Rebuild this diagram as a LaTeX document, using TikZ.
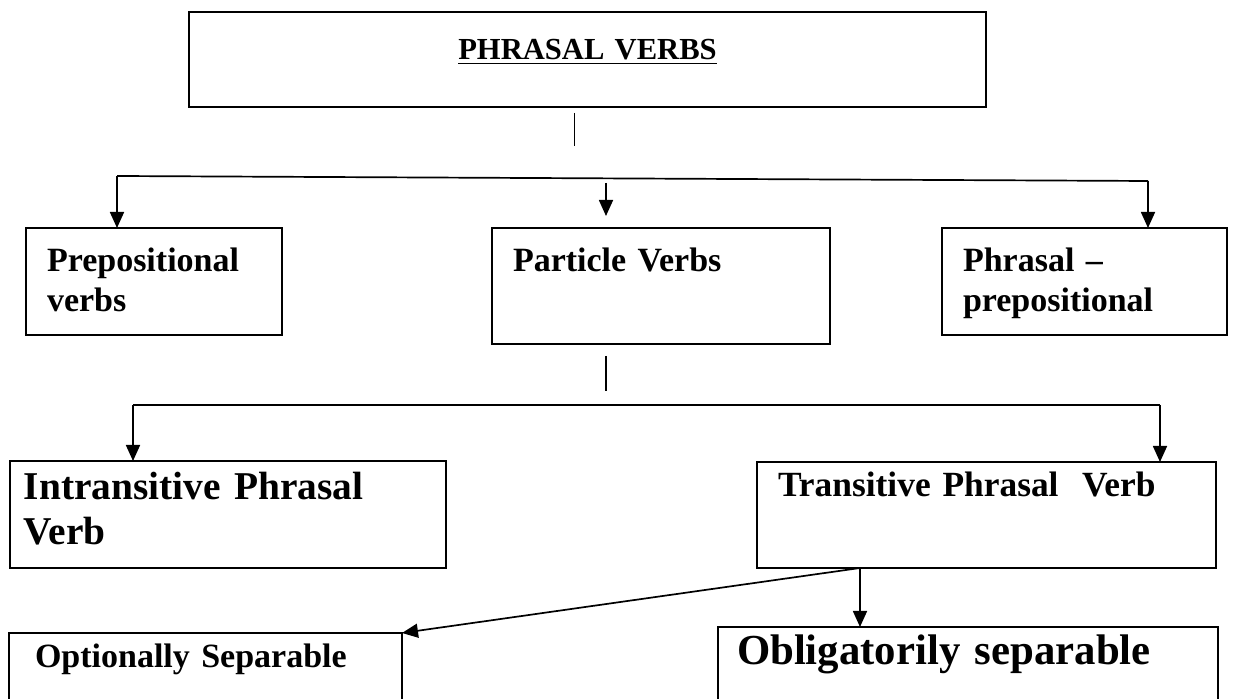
\documentclass[tikz,border=0pt]{standalone}
\usepackage{fontspec}
\setmainfont{Liberation Serif}
\usetikzlibrary{arrows.meta,calc}

\begin{document}
\begin{tikzpicture}[
  x=0.5pt, y=-0.5pt,
  line width=0.85pt,
  arrow/.style={-{Triangle[length=8pt,width=7pt]}},
  box/.style={draw, anchor=north west, inner xsep=10.5pt, inner ysep=0pt, outer sep=0pt, align=left},
  topsty/.style={font=\fontsize{17}{20}\selectfont\bfseries},
  lowsty/.style={font=\fontsize{19.7}{22.5}\selectfont\bfseries}]

\useasboundingbox (0,0) rectangle (1233,699);

\node[box, align=center, inner xsep=0pt, text width=398.5pt, text height=24pt, text depth=23.5pt,
  font=\fontsize{15.3}{18}\selectfont\bfseries] (title) at (189,12) {\underline{PHRASAL VERBS}};

\node[box, topsty, text width=107pt, text height=22pt, text depth=31.5pt] (prep) at (26,228) {Prepositional\\verbs};
\node[box, topsty, text width=148pt, text height=22pt, text depth=36pt] (particle) at (492,228) {Particle Verbs};
\node[box, topsty, text width=121.5pt, text height=22pt, text depth=31.5pt] (phrprep) at (942,228) {Phrasal --\\prepositional};

\node[box, lowsty, inner xsep=7pt, text width=204pt, text height=19.5pt, text depth=34pt] (intrans) at (10,461) {Intransitive Phrasal\\Verb};
\node[box, topsty, font=\fontsize{17.7}{21}\selectfont\bfseries, text width=208.5pt, text height=17.5pt, text depth=35.5pt] (trans) at (757,462) {Transitive Phrasal~ Verb};

\node[box, topsty, inner xsep=13pt, text width=170.5pt, text height=17.5pt, text depth=25pt] (optsep) at (9,633) {Optionally Separable};
\node[box, lowsty, font=\fontsize{21.4}{24}\selectfont\bfseries, inner xsep=9.5pt, text width=231pt, text height=19pt, text depth=25pt] (oblig) at (718,627) {Obligatorily separable};

% first level
\coordinate (barl) at (117,176);
\coordinate (barr) at (1148,181);
\draw ($(title.south)+(-13,6)$) -- ($(title.south)+(-13,39)$);
\draw (barl) -- (barr);
\draw[arrow] (barl) -- (prep.north -| barl);
\draw[arrow] ($(particle.north west)+(114,-45)$) -- ($(particle.north west)+(114,-12)$);
\draw[arrow] (barr) -- (phrprep.north -| barr);

% second level
\coordinate (subl) at (133,405);
\coordinate (subr) at (1160,405);
\draw ($(particle.south)+(-55,12)$) -- ($(particle.south)+(-55,47)$);
\draw (subl) -- (subr);
\draw[arrow] (subl) -- (intrans.north -| subl);
\draw[arrow] (subr) -- (trans.north -| subr);

% third level
\coordinate (split) at ($(trans.south west)+(103,0)$);
\draw[arrow] (split) -- (oblig.north -| split);
\draw[arrow] (split) -- (optsep.north east);

\end{tikzpicture}
\end{document}
